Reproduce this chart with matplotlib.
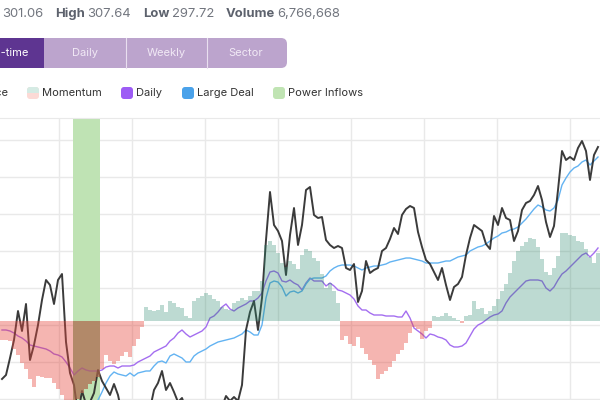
import matplotlib
matplotlib.use("Agg")
import matplotlib.pyplot as plt
from matplotlib.patches import FancyBboxPatch, Rectangle
from matplotlib.colors import to_rgba
import numpy as np

# ---- data (one point per trading day, 150 days) ----
price = [20, 24, 41, 59, 88, 68, 95, 39, 54, 74,
         99, 119, 114, 95, 119, 125, 57, 26, 14, -15,
         8, -5, -3, 6, 29, 18, 11, 4, 15, 4,
         -15, -20, -25, -25, -25, -20, -15, -10, 9, 16,
         28, 9, 16, 7, -3, 1, -10, -20, -25, -30,
         -30, -28, -25, -20, -15, -8, 3, -2, 2, -2,
         14, 69, 87, 98, 69, 101, 159, 207, 174, 168,
         158, 124, 164, 191, 154, 174, 209, 212, 184, 181,
         182, 159, 154, 151, 153, 151, 131, 129, 135, 97,
         108, 138, 126, 129, 131, 148, 151, 160, 171, 165,
         184, 190, 193, 191, 167, 152, 139, 135, 127, 119,
         131, 114, 99, 112, 115, 122, 144, 161, 174, 171,
         168, 155, 150, 183, 174, 191, 181, 179, 158, 168,
         189, 196, 198, 204, 213, 199, 177, 162, 173, 209,
         248, 239, 242, 239, 251, 258, 248, 219, 244, 252]

daily = [69, 69, 68, 66, 63, 61, 58, 54, 53, 52,
         51, 50, 48, 45, 44, 42, 37, 31, 24, 28,
         31, 29, 28, 28, 28, 29, 32, 33, 33, 31,
         33, 33, 33, 34, 37, 39, 41, 43, 47, 49,
         51, 53, 58, 61, 66, 69, 65, 62, 64, 66,
         68, 72, 81, 83, 87, 92, 95, 90, 88, 91,
         93, 95, 98, 98, 101, 106, 118, 127, 128, 126,
         118, 117, 119, 116, 114, 109, 116, 121, 118, 118,
         118, 113, 116, 113, 109, 108, 106, 104, 100, 93,
         89, 89, 86, 84, 84, 84, 83, 83, 83, 82,
         82, 88, 81, 71, 68, 65, 61, 65, 64, 62,
         61, 59, 54, 52, 52, 53, 56, 63, 70, 74,
         76, 79, 82, 84, 85, 88, 96, 102, 106, 110,
         114, 118, 119, 119, 119, 118, 111, 108, 112, 119,
         125, 128, 132, 136, 140, 144, 146, 142, 146, 151]

large_deal = [None] * 23 + [
    -6, -1, 7, 16, 23, 27, 25,
    24, 23, 26, 23, 26, 27, 28, 28, 33, 37,
    38, 36, 43, 45, 43, 41, 37, 37, 43, 46,
    48, 50, 53, 55, 57, 58, 59, 60, 61, 63,
    65, 69, 67, 64, 64, 74, 101, 116, 118, 117,
    112, 103, 107, 108, 106, 108, 115, 120, 121, 121,
    121, 123, 128, 131, 133, 134, 134, 134, 133, 131,
    129, 131, 132, 133, 133, 134, 135, 137, 138, 139,
    140, 141, 141, 140, 139, 138, 136, 136, 136, 136,
    137, 138, 138, 140, 142, 143, 144, 148, 150, 152,
    153, 155, 158, 161, 163, 166, 167, 169, 170, 172,
    176, 180, 185, 190, 194, 192, 189, 188, 191, 199,
    214, 221, 227, 231, 233, 237, 239, 234, 238, 242]

momentum = [-19, -19, -20, -28, -34, -42, -48, -58, -66, -55,
            -56, -57, -57, -62, -68, -74, -85, -88, -88, -78,
            -72, -68, -63, -60, -56, -48, -34, -40, -43, -40,
            -35, -31, -36, -25, -18, -6, 14, 11, 10, 11,
            16, 9, 20, 18, 14, 13, 5, 3, 20, 23,
            25, 28, 26, 22, 20, 14, 12, 11, 18, 20,
            23, 21, 25, 30, 30, 40, 76, 80, 76, 68,
            58, 54, 60, 57, 52, 66, 72, 70, 63, 60,
            47, 33, 38, 30, 18, -19, -15, -23, -25, -16,
            -27, -33, -39, -44, -58, -53, -50, -46, -40, -33,
            -29, -22, -12, -6, -8, -18, -10, -7, 5, 4,
            5, 8, 5, 3, 1, -2, 5, 6, 20, 12,
            13, 7, 10, 15, 22, 30, 37, 48, 60, 70,
            75, 79, 83, 82, 74, 62, 49, 46, 53, 65,
            88, 88, 86, 85, 80, 79, 72, 64, 58, 68]

power_inflow_span = (17.75, 24.5)
month_marks = [14.25, 32.5, 50.75, 69, 87.25, 105.5, 123.75, 142]

header = [("", "301.06"), ("High", "307.64"), ("Low", "297.72"), ("Volume", "6,766,668")]
tabs = ["Daily", "Weekly", "Sector"]
legend_labels = ["Momentum", "Daily", "Large Deal", "Power Inflows"]

plt.rcParams["font.family"] = ["Inter", "DejaVu Sans"]

fig = plt.figure(figsize=(6, 4), dpi=100)

# ---- chart ----
ax = fig.add_axes([0, 0, 1, 282 / 400])
x = np.arange(len(price))
ax.set_xlim(-0.5, len(price) - 0.5)
ax.set_ylim(-1, 281)
ax.set_xticks(month_marks)
ax.set_yticks(range(0, 260, 37))
ax.set_axisbelow(True)
ax.grid(color="#e9e9e9", lw=1)
ax.tick_params(length=0, labelbottom=False, labelleft=False)
for s in ["left", "right", "bottom"]:
    ax.spines[s].set_visible(False)
ax.spines["top"].set_color("#e9e9e9")

band = ax.axvspan(*power_inflow_span, color="#bfe3b4", lw=0, zorder=1)

ax.plot(x, daily, color="#a46ef0", lw=1.0, zorder=2)
ax.plot(x, np.array(large_deal, dtype=float), color="#63b3f2", lw=1.0, zorder=2)
ax.plot(x, price, color="#262626", lw=1.4, alpha=0.9, zorder=3)

ax2 = ax.twinx()
ax2.set_ylim(-79, 203)
ax2.axis("off")
mom = np.array(momentum)
cols = [to_rgba("#26866a", 0.3) if m >= 0 else to_rgba("#e6463c", 0.4) for m in mom]
ax2.bar(x, mom, width=0.85, color=cols, lw=0)
# darker tone where momentum crosses the power-inflow band
over = ax2.bar(x, mom, width=0.85, color=to_rgba("#97704f", 0.5), lw=0)
for b in over:
    b.set_clip_path(band)

# ---- header / tabs / legend ----
ui = fig.add_axes([0, 0, 1, 1], zorder=5)
ui.set_xlim(0, 600)
ui.set_ylim(400, 0)
ui.axis("off")

hx = [(None, 2), (55, 87), (143, 172), (226, 277)]
for (lab, val), (lx, vx) in zip(header, hx):
    if lab:
        ui.text(lx, 14, lab, color="#5d626d", fontsize=9.4, fontweight="bold", va="center")
    ui.text(vx, 14, val, color="#72767f", fontsize=9.4, va="center")

ui.add_patch(FancyBboxPatch((20, 38), 267, 30, boxstyle="round,pad=0,rounding_size=6",
                            fc="#bca4cd", ec="none"))
ui.add_patch(Rectangle((-10, 38), 53.5, 30, fc="#5e3591", ec="none"))
for sx in [125.5, 206.5]:
    ui.plot([sx, sx], [38, 68], color="#e9dff0", lw=0.8)
ui.text(28, 53, "Real-time", color="white", fontsize=8.0, ha="right", va="center")
for t, cx in zip(tabs, [85, 166, 246]):
    ui.text(cx, 53, t, color="#f1e9f5", fontsize=8.0, ha="center", va="center")

ui.text(7.5, 93, "Price", color="#333333", fontsize=8.0, ha="right", va="center")
sw = [(27, None), (121, "#9d5cf5"), (182, "#4aa2ea"), (273, "#c0e4b3")]
for lab, (sx, c) in zip(legend_labels, sw):
    box = FancyBboxPatch((sx, 87), 12, 12, boxstyle="round,pad=0,rounding_size=3",
                         fc=c if c else "#fcdad6", ec="none")
    ui.add_patch(box)
    if c is None:
        top = Rectangle((sx, 87), 12, 6, fc="#d5ebe4", ec="none")
        ui.add_patch(top)
        top.set_clip_path(box)
    ui.text(sx + 15, 93, lab, color="#333333", fontsize=8.0, va="center")

fig.savefig("out.png", dpi=100)
